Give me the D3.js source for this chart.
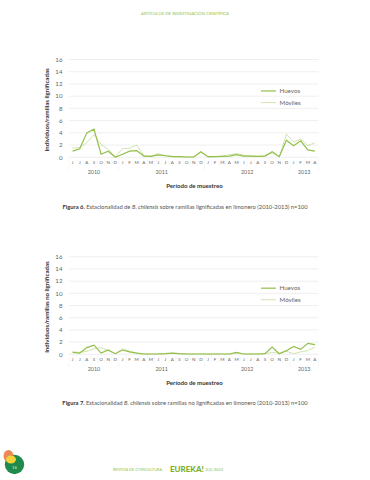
<!DOCTYPE html>
<html>
<head>
<meta charset="utf-8">
<script src="https://cdn.jsdelivr.net/npm/d3@7"></script>
<style>
html, body { margin: 0; padding: 0; background: #fff; }
svg text { font-family: Lato, "Open Sans", sans-serif; }
</style>
</head>
<body>
<div id="page"></div>
<script>
const months = ["J","J","A","S","O","N","D","J","F","M","A","M","J","J","A","S","O","N","D","J","F","M","A","M","J","J","A","S","O","N","D","J","F","M","A"];
const years = ["2010","2011","2012","2013"];
const yearStart = [0, 7, 19, 31];
const yearEnd = [7, 19, 31, 35];
const yTicks = [0, 2, 4, 6, 8, 10, 12, 14, 16];

const huevosA = [1.0,1.4,4.0,4.6,0.5,1.0,0.0,0.5,1.0,1.1,0.2,0.15,0.4,0.25,0.1,0.1,0.05,0.05,0.9,0.1,0.1,0.15,0.2,0.45,0.2,0.2,0.15,0.2,0.9,0.1,2.8,1.9,2.7,1.2,1.0];
const movilesA = [1.5,1.6,2.4,3.7,2.1,1.3,0.1,1.4,1.5,2.0,0.3,0.2,0.6,0.3,0.15,0.1,0.05,0.05,0.8,0.05,0.1,0.2,0.4,0.6,0.35,0.2,0.15,0.3,0.7,0.1,3.8,2.5,3.0,1.9,2.4];
const huevosB = [0.3,0.2,1.1,1.5,0.2,0.7,0.1,0.7,0.4,0.2,0.05,0.05,0.05,0.1,0.2,0.1,0.05,0.05,0.05,0.05,0.05,0.05,0.05,0.3,0.05,0.05,0.05,0.1,1.2,0.1,0.6,1.3,0.8,1.8,1.6];
const movilesB = [0.4,0.3,0.5,0.9,1.1,0.6,0.1,0.9,0.5,0.2,0.05,0.05,0.05,0.1,0.15,0.1,0.05,0.05,0.05,0.05,0.05,0.05,0.05,0.2,0.05,0.05,0.05,0.1,0.3,0.2,0.5,0.1,0.4,0.6,1.2];

const green = "#93bf4a";
const lightGreen = "#a5cb68";
const gridColor = "#ebebeb";
const textGrey = "#666";

const svg = d3.select("#page").append("svg").attr("width", 370).attr("height", 480).style("display", "block");

// page header
svg.append("text").attr("x", 185).attr("y", 15).attr("text-anchor", "middle")
    .style("font-size", "4.3px").attr("fill", green).text("ARTÍCULOS DE INVESTIGACIÓN CIENTÍFICA");

drawChart(59.5, 157.3, huevosA, movilesA, "Individuos/ramillas lignificadas");
drawChart(256.8, 354.3, huevosB, movilesB, "Individuos/ramillas no lignificadas");

function drawChart(top, bottom, huevos, moviles, yLabel) {
    const left = 69, right = 318.5;
    const x = d3.scaleBand().domain(d3.range(months.length)).range([left, right]);
    const xEdge = d3.scaleLinear().domain([0, months.length]).range([left, right]);
    const y = d3.scaleLinear().domain([0, 16]).range([bottom, top]);
    const g = svg.append("g");

    g.selectAll("line.grid").data(yTicks).join("line").attr("class", "grid")
        .attr("x1", left).attr("x2", right)
        .attr("y1", d => y(d)).attr("y2", d => y(d))
        .attr("stroke", gridColor).attr("stroke-width", 0.8);

    g.selectAll("text.ytick").data(yTicks).join("text").attr("class", "ytick")
        .attr("x", 62.5).attr("y", d => y(d) + 2.2).attr("text-anchor", "end")
        .style("font-size", "6.2px").attr("fill", textGrey).text(d => d);

    // month cells under the axis
    g.selectAll("line.cell").data(d3.range(months.length + 1)).join("line").attr("class", "cell")
        .attr("x1", d => xEdge(d)).attr("x2", d => xEdge(d))
        .attr("y1", bottom).attr("y2", bottom + 9)
        .attr("stroke", "#f3f3f3").attr("stroke-width", 0.5);

    g.selectAll("text.month").data(months).join("text").attr("class", "month")
        .attr("x", (d, i) => x(i) + x.bandwidth() / 2).attr("y", bottom + 7)
        .attr("text-anchor", "middle").style("font-size", "4.6px").attr("fill", textGrey).text(d => d);

    g.selectAll("line.year").data(yearStart.concat([months.length])).join("line").attr("class", "year")
        .attr("x1", d => xEdge(d)).attr("x2", d => xEdge(d))
        .attr("y1", bottom + 9).attr("y2", bottom + 13)
        .attr("stroke", "#f0f0f0").attr("stroke-width", 0.7);

    g.selectAll("text.yr").data(years).join("text").attr("class", "yr")
        .attr("x", (d, i) => xEdge((yearStart[i] + yearEnd[i]) / 2)).attr("y", bottom + 16.5)
        .attr("text-anchor", "middle").style("font-size", "5.4px").attr("fill", textGrey).text(d => d);

    const line = d3.line().x((d, i) => x(i) + x.bandwidth() / 2).y(d => y(d));
    g.append("path").datum(moviles).attr("fill", "none").attr("stroke", lightGreen)
        .attr("stroke-width", 0.7).attr("stroke-dasharray", "1.2 0.4").attr("d", line);
    g.append("path").datum(huevos).attr("fill", "none").attr("stroke", green)
        .attr("stroke-width", 1.2).attr("d", line);

    // legend
    const legendY1 = y(10.85), legendY2 = y(8.95);
    g.append("line").attr("x1", 261).attr("x2", 276).attr("y1", legendY1).attr("y2", legendY1)
        .attr("stroke", green).attr("stroke-width", 1.2);
    g.append("line").attr("x1", 261).attr("x2", 276).attr("y1", legendY2).attr("y2", legendY2)
        .attr("stroke", lightGreen).attr("stroke-width", 0.7).attr("stroke-dasharray", "1.2 0.4");
    g.append("text").attr("x", 279.5).attr("y", legendY1 + 2.2).style("font-size", "6.2px").attr("fill", textGrey).text("Huevos");
    g.append("text").attr("x", 279.5).attr("y", legendY2 + 2.2).style("font-size", "6.2px").attr("fill", textGrey).text("Móviles");

    // axis titles
    g.append("text").attr("transform", `translate(49,${(top + bottom) / 2 + 1.5}) rotate(-90)`)
        .attr("text-anchor", "middle").style("font-size", "6.1px").style("font-weight", 700).attr("fill", "#333").text(yLabel);
    g.append("text").attr("x", 194.5).attr("y", bottom + 30.6).attr("text-anchor", "middle")
        .style("font-size", "6.1px").style("font-weight", 700).attr("fill", "#333").text("Período de muestreo");
}

// captions
const cap1 = svg.append("text").attr("x", 185).attr("y", 209).attr("text-anchor", "middle")
    .style("font-size", "5.8px").attr("fill", "#555");
cap1.append("tspan").style("font-weight", 700).attr("fill", "#333").text("Figura 6. ");
cap1.append("tspan").text("Estacionalidad de ");
cap1.append("tspan").style("font-style", "italic").text("B. chilensis");
cap1.append("tspan").text(" sobre ramillas lignificadas en limonero (2010-2013) n=100");

const cap2 = svg.append("text").attr("x", 185).attr("y", 405).attr("text-anchor", "middle")
    .style("font-size", "5.8px").attr("fill", "#555");
cap2.append("tspan").style("font-weight", 700).attr("fill", "#333").text("Figura 7. ");
cap2.append("tspan").text("Estacionalidad ");
cap2.append("tspan").style("font-style", "italic").text("B. chilensis");
cap2.append("tspan").text(" sobre ramillas no lignificadas en limonero (2010-2013) n=100");

// page badge
svg.append("circle").attr("cx", 14.5).attr("cy", 464.5).attr("r", 9.7).attr("fill", "#1f8a4c");
svg.append("ellipse").attr("cx", 8.5).attr("cy", 456).attr("rx", 5).attr("ry", 6).attr("fill", "#e8743b").attr("opacity", 0.85);
svg.append("ellipse").attr("cx", 11).attr("cy", 459.5).attr("rx", 5).attr("ry", 4).attr("fill", "#f2d33c");
svg.append("text").attr("x", 14.5).attr("y", 468.5).attr("text-anchor", "middle")
    .style("font-size", "4.5px").attr("fill", "#d9e8c0").text("16");

// footer
svg.append("text").attr("x", 113).attr("y", 471).style("font-size", "3.9px").attr("fill", green).text("REVISTA DE CITRICULTURA");
svg.append("text").attr("x", 170).attr("y", 472).style("font-size", "8px").style("font-weight", 900).attr("fill", "#79b030").text("EUREKA!");
svg.append("text").attr("x", 205).attr("y", 471).style("font-size", "4.3px").attr("fill", green).text("3(2) 2022");
</script>
</body>
</html>
